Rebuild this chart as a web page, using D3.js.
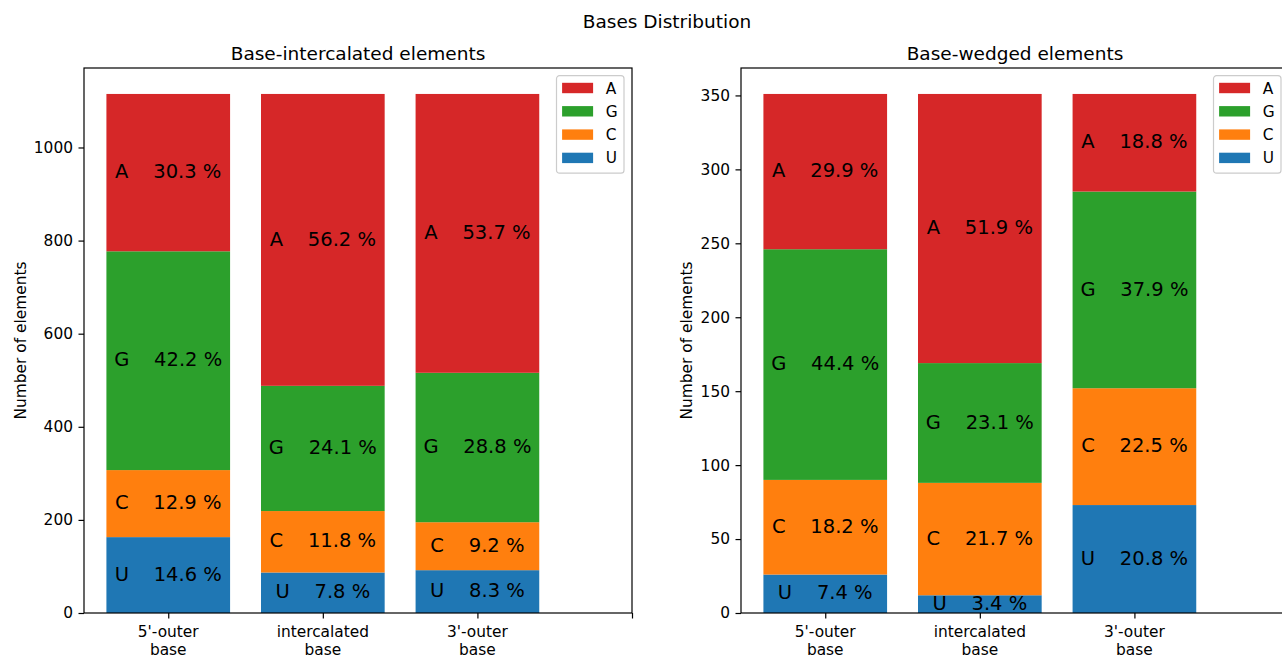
<!DOCTYPE html>
<html>
<head>
<meta charset="utf-8">
<script src="https://cdn.jsdelivr.net/npm/d3@7"></script>
<style>
  body { margin: 0; background: #fff; }
  svg { font-family: "DejaVu Sans", sans-serif; }
</style>
</head>
<body>
<div id="chart"></div>
<script>
// Bases Distribution: two stacked bar panels (counts, labelled with percentages)

// data
const categories = ["5'-outer\nbase", "intercalated\nbase", "3'-outer\nbase", ""];
const bases = ["A", "G", "C", "U"];           // legend order
const stackOrder = ["U", "C", "G", "A"];      // bottom -> top

const intercalatedU = [163, 87, 92];
const intercalatedC = [144, 132, 103];
const intercalatedG = [470, 269, 321];
const intercalatedA = [338, 627, 599];

const wedgedU = [26, 12, 73];
const wedgedC = [64, 76, 79];
const wedgedG = [156, 81, 133];
const wedgedA = [105, 182, 66];

const color = d3.scaleOrdinal()
  .domain(["A", "G", "C", "U"])
  .range(["#d62728", "#2ca02c", "#ff7f0e", "#1f77b4"]);

// layout
const WIDTH = 1282, HEIGHT = 657;
const FS = 15.4;        // tick / label font size
const TITLE_FS = 18.5;

const svg = d3.select("#chart").append("svg")
  .attr("width", WIDTH)
  .attr("height", HEIGHT);

svg.append("text")
  .attr("x", 667).attr("y", 28)
  .attr("text-anchor", "middle")
  .style("font-size", TITLE_FS + "px")
  .text("Bases Distribution");

const panels = [
  { title: "Base-intercalated elements", left: 84, U: intercalatedU, C: intercalatedC, G: intercalatedG, A: intercalatedA, ylabelX: 20.5 },
  { title: "Base-wedged elements", left: 741, U: wedgedU, C: wedgedC, G: wedgedG, A: wedgedA, ylabelX: 686.5 }
];

const axTop = 68, axBottom = 613, axW = 548;

panels.forEach(p => drawPanel(p));

function drawPanel(p) {
  const rows = p.U.map((_, i) => ({ i, U: p.U[i], C: p.C[i], G: p.G[i], A: p.A[i] }));
  rows.forEach(r => r.total = r.U + r.C + r.G + r.A);

  const x = d3.scaleLinear().domain([-0.545, 3]).range([p.left, p.left + axW]);
  const maxTotal = d3.max(rows, r => r.total);
  const y = d3.scaleLinear().domain([0, maxTotal * 1.05]).range([axBottom, axTop]);
  const barW = x(0.8) - x(0);

  const g = svg.append("g");

  // stacked bars
  const stacked = d3.stack().keys(stackOrder)(rows);
  stacked.forEach(layer => {
    g.selectAll(null)
      .data(layer)
      .enter()
      .append("rect")
      .attr("x", d => x(d.data.i) - barW / 2)
      .attr("width", barW)
      .attr("y", d => y(d[1]))
      .attr("height", d => y(d[0]) - y(d[1]))
      .attr("fill", color(layer.key));
  });

  // labels "A    30.3 %"
  stacked.forEach(layer => {
    g.selectAll(null)
      .data(layer)
      .enter()
      .append("text")
      .attr("x", d => x(d.data.i))
      .attr("y", d => y((d[0] + d[1]) / 2))
      .attr("dy", "0.29em")
      .attr("text-anchor", "middle")
      .style("font-size", "19.5px")
      .style("white-space", "pre")
      .attr("fill", "#000")
      .text(d => `${layer.key}    ${(100 * (d[1] - d[0]) / d.data.total).toFixed(1)} %`);
  });

  // axes
  const yAxis = d3.axisLeft(y).ticks(8).tickSize(5.5).tickPadding(5.5).tickFormat(d3.format("d"));
  const gy = g.append("g").attr("transform", `translate(${p.left},0)`).call(yAxis);

  const xAxis = d3.axisBottom(x).tickValues([0, 1, 2, 3]).tickSize(5.5).tickFormat(() => "");
  const gx = g.append("g").attr("transform", `translate(0,${axBottom})`).call(xAxis);

  [gx, gy].forEach(ax => {
    ax.attr("font-size", null).attr("font-family", null);
    ax.select(".domain").remove();
    ax.selectAll(".tick line").attr("stroke", "#000").attr("stroke-width", 1.2);
    ax.selectAll("text").style("font-size", FS + "px").attr("fill", "#000");
  });

  // multi-line category labels
  categories.forEach((c, i) => {
    const t = g.append("text")
      .attr("text-anchor", "middle")
      .style("font-size", FS + "px");
    c.split("\n").forEach((line, k) => {
      t.append("tspan").attr("x", x(i)).attr("y", 637 + k * 17.5).text(line);
    });
  });

  // spines
  g.append("rect")
    .attr("x", p.left).attr("y", axTop)
    .attr("width", axW).attr("height", axBottom - axTop)
    .attr("fill", "none")
    .attr("stroke", "#000")
    .attr("stroke-width", 1.2);

  // titles
  g.append("text")
    .attr("x", p.left + axW / 2).attr("y", 59.5)
    .attr("text-anchor", "middle")
    .style("font-size", TITLE_FS + "px")
    .text(p.title);

  g.append("text")
    .attr("transform", `translate(${p.ylabelX},${(axTop + axBottom) / 2}) rotate(-90)`)
    .attr("text-anchor", "middle")
    .attr("dy", "0.35em")
    .style("font-size", FS + "px")
    .text("Number of elements");

  // legend
  const lx = p.left + axW - 8 - 67.5, ly = 75.7;
  const leg = g.append("g").attr("transform", `translate(${lx},${ly})`);
  leg.append("rect")
    .attr("width", 67.5).attr("height", 97.5)
    .attr("rx", 3).attr("ry", 3)
    .attr("fill", "#fff").attr("fill-opacity", 0.8)
    .attr("stroke", "#cccccc").attr("stroke-width", 1.2);
  bases.forEach((b, i) => {
    const row = leg.append("g").attr("transform", `translate(0,${12.3 + i * 23.3})`);
    row.append("rect")
      .attr("x", 5.6).attr("y", -5.2)
      .attr("width", 31).attr("height", 10.4)
      .attr("fill", color(b));
    row.append("text")
      .attr("x", 49.3).attr("y", 0)
      .attr("dy", "0.36em")
      .style("font-size", FS + "px")
      .text(b);
  });
}
</script>
</body>
</html>
